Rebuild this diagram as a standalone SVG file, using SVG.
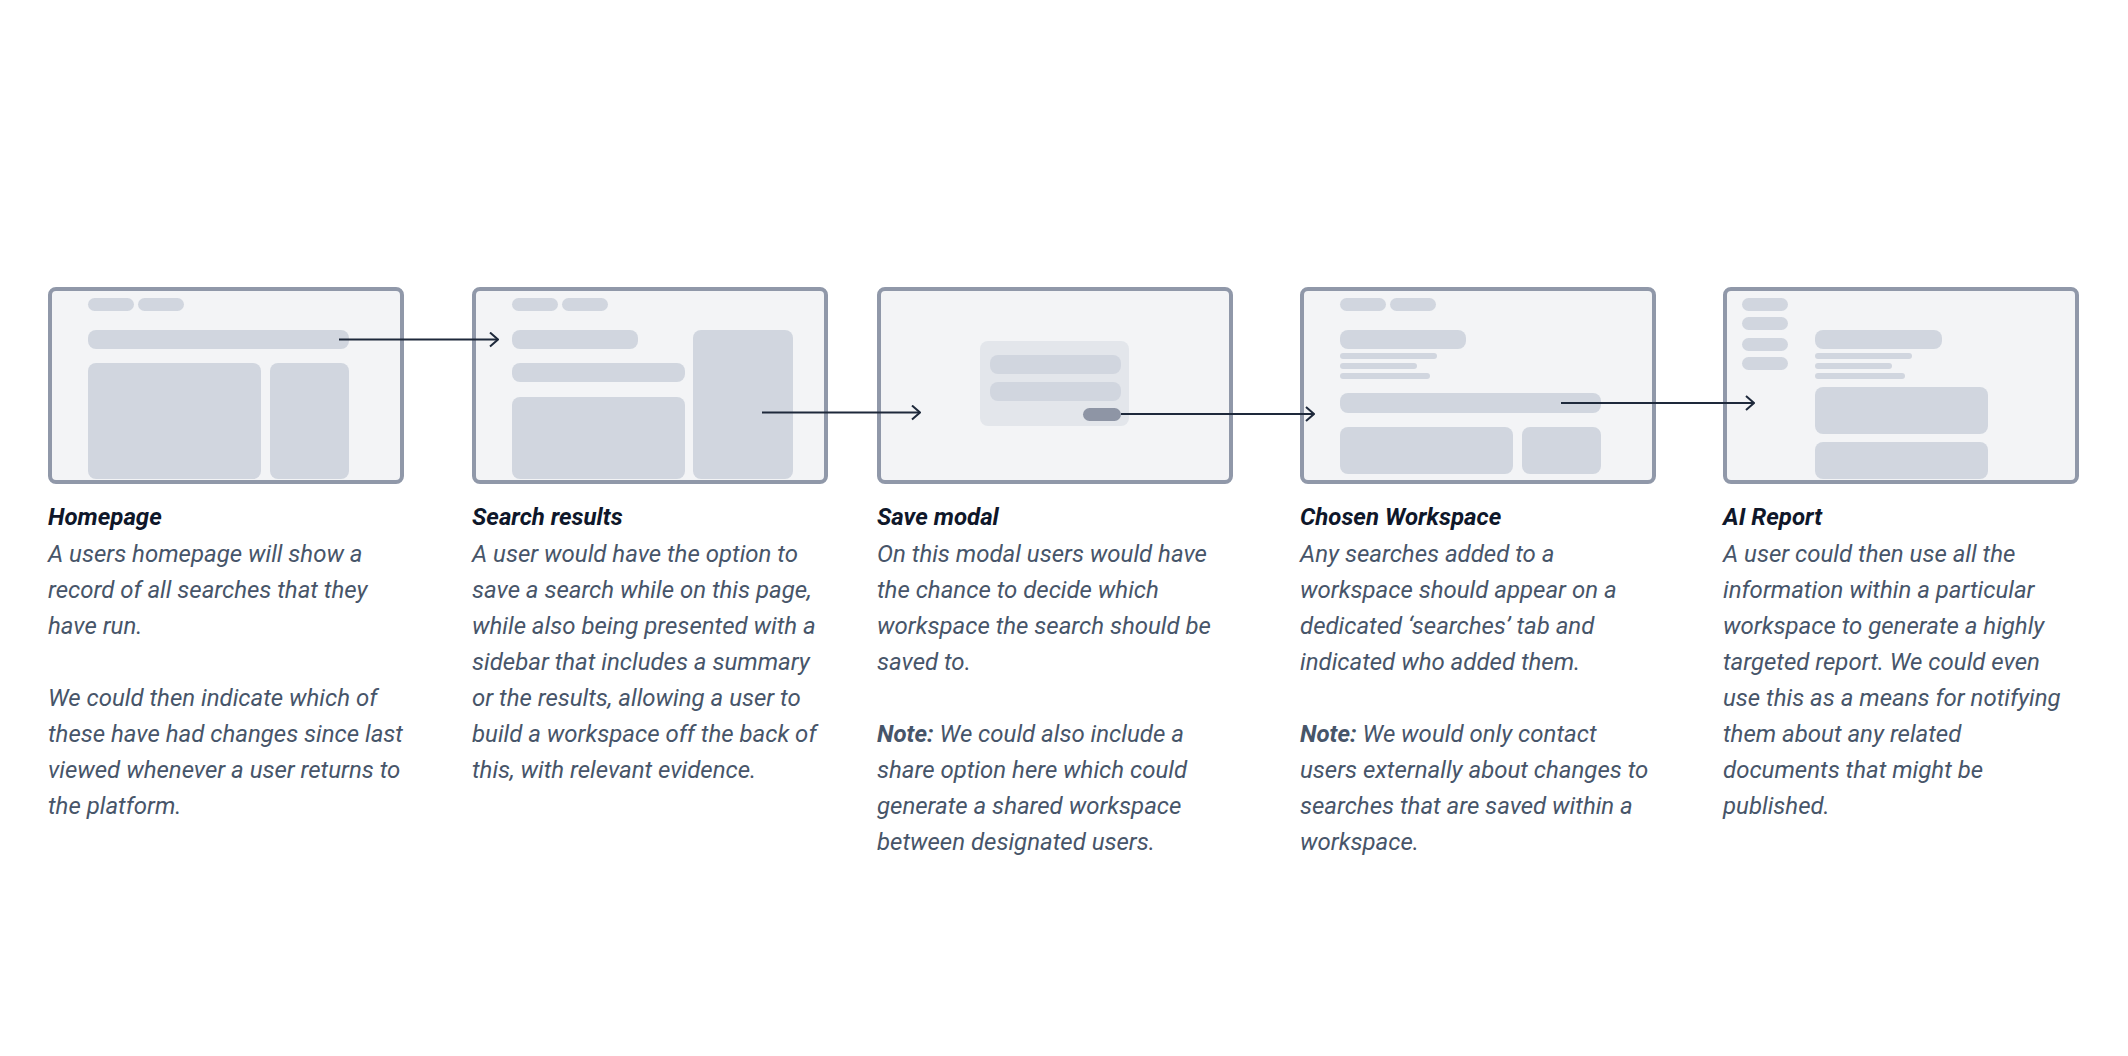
<svg xmlns="http://www.w3.org/2000/svg" width="2128" height="1056" viewBox="0 0 2128 1056">
<style>
.frame{fill:#f3f4f6;stroke:#9098a9;stroke-width:4}
.ph{fill:#d1d6df}
.modal{fill:#e3e6eb}
.btn{fill:#8e95a5}
.conn{stroke:#1e293b;stroke-width:2;fill:none}
.title{font-family:Roboto,"Liberation Sans",sans-serif;font-weight:700;font-style:italic;font-size:24px;fill:#0f172a}
.body{font-family:Roboto,"Liberation Sans",sans-serif;font-style:italic;font-size:24px;fill:#475569}
.note{font-weight:700}
</style>
<defs>
<marker id="arr" viewBox="0 0 10 16" refX="9" refY="8" markerWidth="10" markerHeight="16" markerUnits="userSpaceOnUse" orient="auto">
<path d="M1,1 L9,8 L1,15" fill="none" stroke="#1e293b" stroke-width="2"/>
</marker>
</defs>
<rect width="2128" height="1056" fill="#ffffff"/>

<g id="homepage">
<rect class="frame" x="50" y="289" width="352" height="193" rx="6"/>
<rect class="ph" x="88" y="298" width="46" height="13" rx="6.5"/>
<rect class="ph" x="138" y="298" width="46" height="13" rx="6.5"/>
<rect class="ph" x="88" y="330" width="261" height="19" rx="8"/>
<rect class="ph" x="88" y="363" width="173" height="116" rx="8"/>
<rect class="ph" x="270" y="363" width="79" height="116" rx="8"/>
<text class="title" x="48" y="525">Homepage</text>
<text class="body">
<tspan x="48" y="561.5">A users homepage will show a</tspan>
<tspan x="48" y="597.5">record of all searches that they</tspan>
<tspan x="48" y="633.5">have run.</tspan>
<tspan x="48" y="705.5">We could then indicate which of</tspan>
<tspan x="48" y="741.5">these have had changes since last</tspan>
<tspan x="48" y="777.5">viewed whenever a user returns to</tspan>
<tspan x="48" y="813.5">the platform.</tspan>
</text>
</g>

<g id="search-results">
<rect class="frame" x="474" y="289" width="352" height="193" rx="6"/>
<rect class="ph" x="512" y="298" width="46" height="13" rx="6.5"/>
<rect class="ph" x="562" y="298" width="46" height="13" rx="6.5"/>
<rect class="ph" x="512" y="330" width="126" height="19" rx="8"/>
<rect class="ph" x="512" y="363" width="173" height="19" rx="8"/>
<rect class="ph" x="512" y="397" width="173" height="82" rx="8"/>
<rect class="ph" x="693" y="330" width="100" height="149" rx="8"/>
<text class="title" x="472" y="525">Search results</text>
<text class="body">
<tspan x="472" y="561.5">A user would have the option to</tspan>
<tspan x="472" y="597.5">save a search while on this page,</tspan>
<tspan x="472" y="633.5">while also being presented with a</tspan>
<tspan x="472" y="669.5">sidebar that includes a summary</tspan>
<tspan x="472" y="705.5">or the results, allowing a user to</tspan>
<tspan x="472" y="741.5">build a workspace off the back of</tspan>
<tspan x="472" y="777.5">this, with relevant evidence.</tspan>
</text>
</g>

<g id="save-modal">
<rect class="frame" x="879" y="289" width="352" height="193" rx="6"/>
<rect class="modal" x="980" y="341" width="149" height="85" rx="8"/>
<rect class="ph" x="990" y="355" width="131" height="19" rx="8"/>
<rect class="ph" x="990" y="382" width="131" height="19" rx="8"/>
<rect class="btn" x="1083" y="408" width="38" height="13" rx="6.5"/>
<text class="title" x="877" y="525">Save modal</text>
<text class="body">
<tspan x="877" y="561.5">On this modal users would have</tspan>
<tspan x="877" y="597.5">the chance to decide which</tspan>
<tspan x="877" y="633.5">workspace the search should be</tspan>
<tspan x="877" y="669.5">saved to.</tspan>
<tspan x="877" y="741.5"><tspan class="note">Note:</tspan> We could also include a</tspan>
<tspan x="877" y="777.5">share option here which could</tspan>
<tspan x="877" y="813.5">generate a shared workspace</tspan>
<tspan x="877" y="849.5">between designated users.</tspan>
</text>
</g>

<g id="chosen-workspace">
<rect class="frame" x="1302" y="289" width="352" height="193" rx="6"/>
<rect class="ph" x="1340" y="298" width="46" height="13" rx="6.5"/>
<rect class="ph" x="1390" y="298" width="46" height="13" rx="6.5"/>
<rect class="ph" x="1340" y="330" width="126" height="19" rx="8"/>
<rect class="ph" x="1340" y="353" width="97" height="6" rx="3"/>
<rect class="ph" x="1340" y="363" width="77" height="6" rx="3"/>
<rect class="ph" x="1340" y="373" width="90" height="6" rx="3"/>
<rect class="ph" x="1340" y="393" width="261" height="20" rx="8"/>
<rect class="ph" x="1340" y="427" width="173" height="47" rx="8"/>
<rect class="ph" x="1522" y="427" width="79" height="47" rx="8"/>
<text class="title" x="1300" y="525">Chosen Workspace</text>
<text class="body">
<tspan x="1300" y="561.5">Any searches added to a</tspan>
<tspan x="1300" y="597.5">workspace should appear on a</tspan>
<tspan x="1300" y="633.5">dedicated ‘searches’ tab and</tspan>
<tspan x="1300" y="669.5">indicated who added them.</tspan>
<tspan x="1300" y="741.5"><tspan class="note">Note:</tspan> We would only contact</tspan>
<tspan x="1300" y="777.5">users externally about changes to</tspan>
<tspan x="1300" y="813.5">searches that are saved within a</tspan>
<tspan x="1300" y="849.5">workspace.</tspan>
</text>
</g>

<g id="ai-report">
<rect class="frame" x="1725" y="289" width="352" height="193" rx="6"/>
<rect class="ph" x="1742" y="298" width="46" height="13" rx="6.5"/>
<rect class="ph" x="1742" y="317" width="46" height="13" rx="6.5"/>
<rect class="ph" x="1742" y="338" width="46" height="13" rx="6.5"/>
<rect class="ph" x="1742" y="357" width="46" height="13" rx="6.5"/>
<rect class="ph" x="1815" y="330" width="127" height="19" rx="8"/>
<rect class="ph" x="1815" y="353" width="97" height="6" rx="3"/>
<rect class="ph" x="1815" y="363" width="77" height="6" rx="3"/>
<rect class="ph" x="1815" y="373" width="90" height="6" rx="3"/>
<rect class="ph" x="1815" y="387" width="173" height="47" rx="8"/>
<rect class="ph" x="1815" y="442" width="173" height="37" rx="8"/>
<text class="title" x="1723" y="525">AI Report</text>
<text class="body">
<tspan x="1723" y="561.5">A user could then use all the</tspan>
<tspan x="1723" y="597.5">information within a particular</tspan>
<tspan x="1723" y="633.5">workspace to generate a highly</tspan>
<tspan x="1723" y="669.5">targeted report. We could even</tspan>
<tspan x="1723" y="705.5">use this as a means for notifying</tspan>
<tspan x="1723" y="741.5">them about any related</tspan>
<tspan x="1723" y="777.5">documents that might be</tspan>
<tspan x="1723" y="813.5">published.</tspan>
</text>
</g>

<g id="connectors">
<line class="conn" x1="339" y1="339.5" x2="498" y2="339.5" marker-end="url(#arr)"/>
<line class="conn" x1="762" y1="412.5" x2="920" y2="412.5" marker-end="url(#arr)"/>
<line class="conn" x1="1121" y1="414" x2="1314" y2="414" marker-end="url(#arr)"/>
<line class="conn" x1="1561" y1="403" x2="1754" y2="403" marker-end="url(#arr)"/>
</g>
</svg>
